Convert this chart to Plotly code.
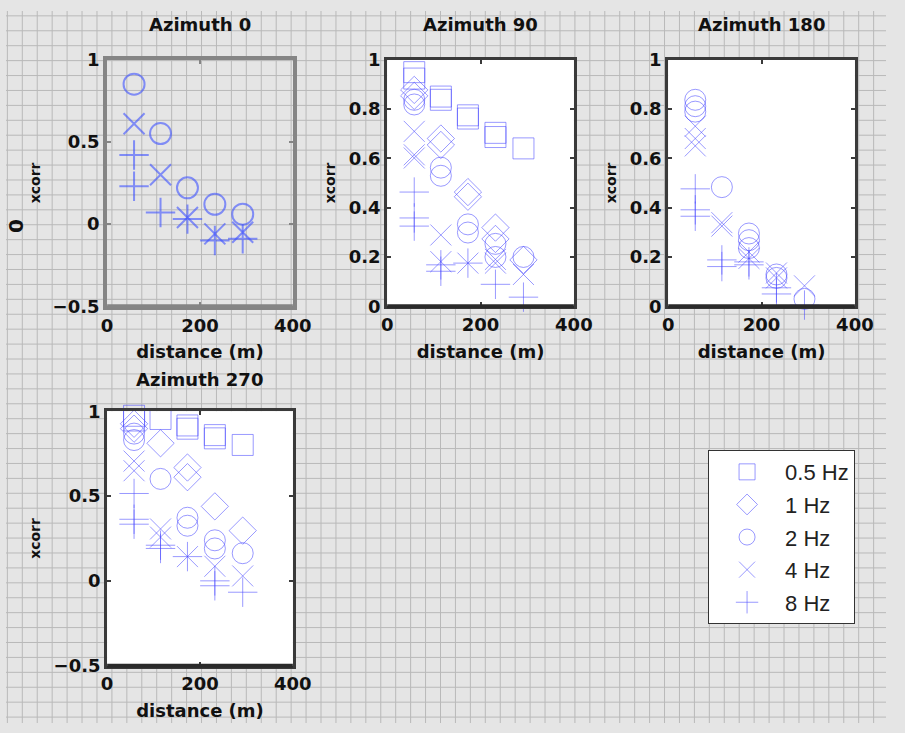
import plotly.graph_objects as go

W, H = 905, 733

# ---------------- data ----------------
DIST = [58, 115, 173, 232, 292]
FREQS = ["0.5 Hz", "1 Hz", "2 Hz", "4 Hz", "8 Hz"]
SYMBOLS = ["square-open", "diamond-open", "circle-open", "x-thin-open", "cross-thin-open"]
TITLES = ["Azimuth 0", "Azimuth 90", "Azimuth 180", "Azimuth 270"]

# Azimuth 0 (values per distance)
AZ0_05HZ = [[], [], [], [], []]
AZ0_1HZ = [[], [], [], [], []]
AZ0_2HZ = [[0.85], [0.55], [0.22], [0.12], [0.06]]
AZ0_4HZ = [[0.61], [0.30], [0.04], [-0.06], [-0.05]]
AZ0_8HZ = [[0.42, 0.23], [0.07], [0.03], [-0.10], [-0.09]]

# Azimuth 90
AZ90_05HZ = [[0.949, 0.923], [0.85, 0.837], [0.774, 0.761], [0.703, 0.686], [0.64]]
AZ90_1HZ = [[0.877, 0.853], [0.68, 0.654], [0.463, 0.444], [0.319, 0.273], [0.188]]
AZ90_2HZ = [[0.837, 0.818], [0.562, 0.529], [0.332, 0.299], [0.253, 0.20], [0.20]]
AZ90_4HZ = [[0.709, 0.614, 0.601], [0.289, 0.181], [0.175], [0.19, 0.175], [0.129]]
AZ90_8HZ = [[0.463, 0.358, 0.325], [0.168, 0.142], [0.175], [0.089], [0.037]]

# Azimuth 180
AZ180_05HZ = [[], [], [], [], []]
AZ180_1HZ = [[], [], [], [], []]
AZ180_2HZ = [[0.837, 0.811, 0.789], [0.483], [0.295, 0.268, 0.236], [0.129, 0.115], [0.03]]
AZ180_4HZ = [[0.73, 0.68, 0.65], [0.339, 0.325], [0.22, 0.194], [0.135, 0.115], [0.083]]
AZ180_8HZ = [[0.476, 0.391, 0.365], [0.188, 0.161], [0.18, 0.168], [0.075, 0.05], [0.005]]

# Azimuth 270
AZ270_05HZ = [[0.973, 0.945], [0.954], [0.916, 0.897], [0.859, 0.84], [0.801]]
AZ270_1HZ = [[0.926, 0.897], [0.811], [0.668, 0.611], [0.439], [0.296]]
AZ270_2HZ = [[0.868, 0.83], [0.601], [0.372, 0.325], [0.239, 0.191], [0.163]]
AZ270_4HZ = [[0.706, 0.649], [0.306, 0.258], [0.143], [0.086], [0.029]]
AZ270_8HZ = [[0.515, 0.363, 0.334], [0.21, 0.191], [0.143], [0.0, -0.029], [-0.067]]

PANELS = [
    [AZ0_05HZ, AZ0_1HZ, AZ0_2HZ, AZ0_4HZ, AZ0_8HZ],
    [AZ90_05HZ, AZ90_1HZ, AZ90_2HZ, AZ90_4HZ, AZ90_8HZ],
    [AZ180_05HZ, AZ180_1HZ, AZ180_2HZ, AZ180_4HZ, AZ180_8HZ],
    [AZ270_05HZ, AZ270_1HZ, AZ270_2HZ, AZ270_4HZ, AZ270_8HZ],
]

# ---------------- layout geometry (pixels) ----------------
BOXES = [  # left, right, top, bottom
    (104, 295, 50, 304),
    (392, 584, 50, 304),
    (681, 873, 50, 304),
    (104, 295, 412, 674),
]
TITLE_Y = [14, 14, 14, 379]
YRANGES = [[-0.5, 1], [0, 1], [0, 1], [-0.5, 1]]
YDTICK = [0.5, 0.2, 0.2, 0.5]

def px_x(p):
    return p / W

def px_y(p):
    return 1 - p / H

BLUE = "rgba(70,70,255,0.55)"
FONT = "Liberation Sans, Arial, Helvetica, sans-serif"
BFONT = "DejaVu Sans, Liberation Sans, sans-serif"

fig = go.Figure()

for i, series in enumerate(PANELS):
    ax = "" if i == 0 else str(i + 1)
    for j, vals in enumerate(series):
        xs, ys = [], []
        for d, group in zip(DIST, vals):
            for v in group:
                xs.append(d)
                ys.append(v)
        lw = 2 if i == 0 else 1
        col = "rgba(60,80,255,0.6)" if i == 0 else BLUE
        fig.add_trace(go.Scatter(
            x=xs, y=ys, mode="markers",
            name=FREQS[j], legendgroup=FREQS[j],
            showlegend=(i == 1), cliponaxis=False,
            marker=dict(symbol=SYMBOLS[j], size=21, color=col,
                        line=dict(color=col, width=lw)),
            xaxis="x" + ax, yaxis="y" + ax,
        ))

layout = dict(
    width=W, height=H, autosize=False,
    margin=dict(l=0, r=0, t=0, b=0),
    paper_bgcolor="#e5e5e5",
    plot_bgcolor="rgba(0,0,0,0)",
    font=dict(family=FONT, color="#111"),
    showlegend=True,
    legend=dict(
        x=px_x(722), y=px_y(452), xanchor="left", yanchor="top",
        bgcolor="white", bordercolor="#333", borderwidth=1,
        font=dict(size=22, color="#222", family=FONT),
        tracegroupgap=1, itemwidth=66,
    ),
)

shapes = []
# graph-paper background
gx = []
k = 0
while True:
    xp = 1.4 + 15.36 * k
    if xp > W:
        break
    gx.append(f"M{px_x(xp):.5f},0 L{px_x(xp):.5f},1")
    k += 1
k = 0
while True:
    yp = 5 + 15.36 * k
    if yp > H:
        break
    gx.append(f"M0,{px_y(yp):.5f} L1,{px_y(yp):.5f}")
    k += 1
shapes.append(dict(type="path", xref="paper", yref="paper", path=" ".join(gx),
                   line=dict(color="#b9b9b9", width=1), layer="below"))

annotations = []
for i, (l, r, t, b) in enumerate(BOXES):
    ax = "" if i == 0 else str(i + 1)
    xa = "xaxis" + ax
    ya = "yaxis" + ax
    frame_col = "#858585" if i == 0 else "#3a3a3a"
    frame_w = 4 if i == 0 else 3
    layout[xa] = dict(
        domain=[px_x(l), px_x(r)], range=[0, 400], dtick=200,
        anchor="y" + ax, showgrid=False, zeroline=False,
        showline=True, mirror="ticks", linecolor=frame_col, linewidth=frame_w,
        ticks="inside", ticklen=4, tickwidth=2, tickcolor=frame_col,
        tickfont=dict(size=18, weight="bold", color="#111", family=BFONT),
        title=dict(text="distance (m)", font=dict(size=18, weight="bold", color="#111", family=BFONT),
                   standoff=12),
    )
    layout[ya] = dict(
        domain=[px_y(b), px_y(t)], range=YRANGES[i], dtick=YDTICK[i],
        anchor="x" + ax, showgrid=False, zeroline=False,
        showline=True, mirror="ticks", linecolor=frame_col, linewidth=frame_w,
        ticks="inside", ticklen=4, tickwidth=2, tickcolor=frame_col,
        tickfont=dict(size=18, weight="bold", color="#111", family=BFONT),
        title=dict(text="xcorr", font=dict(size=14, weight="bold", color="#111", family=BFONT),
                   standoff=10),
    )
    if i > 0:
        shapes.append(dict(type="rect", xref="paper", yref="paper",
                           x0=px_x(l), x1=px_x(r), y0=px_y(b), y1=px_y(t),
                           fillcolor="white", line=dict(width=0), layer="below"))
    # thick bottom frame
    shapes.append(dict(type="line", xref="paper", yref="paper",
                       x0=px_x(l), x1=px_x(r), y0=px_y(b), y1=px_y(b),
                       line=dict(color=frame_col if i == 0 else "#2a2a2a", width=4)))
    annotations.append(dict(
        text=TITLES[i], x=px_x((l + r) / 2), y=px_y(TITLE_Y[i]), xref="paper", yref="paper",
        showarrow=False, xanchor="center", yanchor="middle",
        font=dict(size=18, weight="bold", color="#111", family=BFONT),
    ))

# stray glyph at far left of first panel
annotations.append(dict(text="0", x=0, y=px_y(212), xref="paper", yref="paper",
                        showarrow=False, textangle=-90, xanchor="left", xshift=-4,
                        font=dict(size=20, weight="bold", color="#111", family=BFONT)))

layout["shapes"] = shapes
layout["annotations"] = annotations
fig.update_layout(**layout)

fig.write_html("out.html")
